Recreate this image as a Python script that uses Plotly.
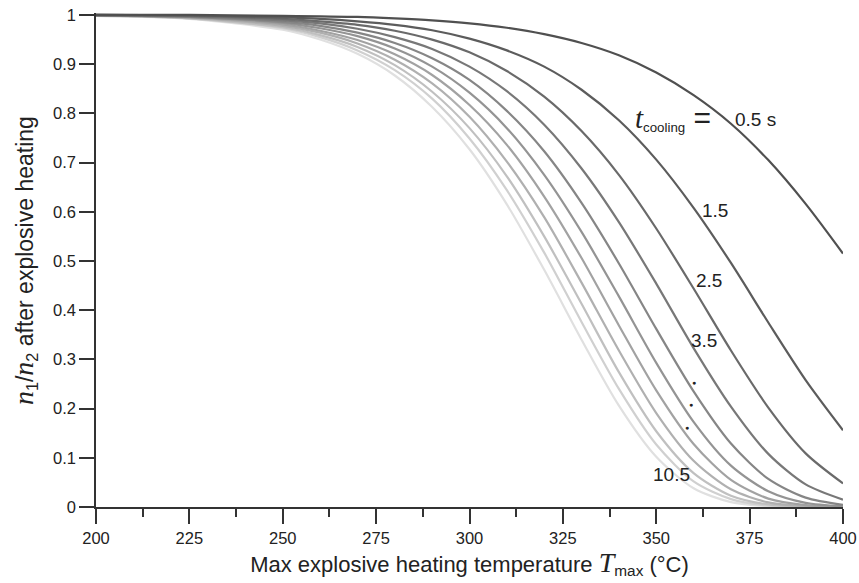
import plotly.graph_objects as go

# Max explosive heating temperature (deg C)
T_max = [200, 225, 250, 260, 270, 280, 290, 300, 310, 320, 330, 340, 350, 360, 370, 380, 390, 400]

# cooling times (s)
t_cooling = ["0.5", "1.5", "2.5", "3.5", "4.5", "5.5", "6.5", "7.5", "8.5", "9.5", "10.5"]

# n1/n2 after explosive heating, one list per cooling time
r_0_5 = [1.000, 1.000, 0.998, 0.997, 0.996, 0.993, 0.989, 0.983, 0.974, 0.961, 0.943, 0.918, 0.883, 0.837, 0.779, 0.705, 0.616, 0.515]
r_1_5 = [1.000, 0.999, 0.995, 0.992, 0.987, 0.980, 0.969, 0.952, 0.928, 0.895, 0.848, 0.786, 0.706, 0.608, 0.496, 0.375, 0.258, 0.156]
r_2_5 = [1.000, 0.998, 0.992, 0.987, 0.980, 0.968, 0.950, 0.924, 0.886, 0.834, 0.764, 0.675, 0.566, 0.444, 0.318, 0.202, 0.109, 0.048]
r_3_5 = [0.999, 0.997, 0.989, 0.983, 0.972, 0.955, 0.931, 0.895, 0.845, 0.777, 0.688, 0.579, 0.454, 0.323, 0.204, 0.108, 0.046, 0.015]
r_4_5 = [0.999, 0.996, 0.986, 0.978, 0.964, 0.943, 0.912, 0.868, 0.805, 0.723, 0.618, 0.495, 0.362, 0.235, 0.129, 0.057, 0.019, 0.0045]
r_5_5 = [0.999, 0.996, 0.984, 0.973, 0.957, 0.932, 0.895, 0.842, 0.770, 0.675, 0.559, 0.428, 0.293, 0.173, 0.084, 0.032, 0.0084, 0.0014]
r_6_5 = [0.999, 0.995, 0.981, 0.968, 0.949, 0.920, 0.878, 0.817, 0.736, 0.631, 0.506, 0.369, 0.237, 0.128, 0.055, 0.017, 0.0037, 0.0005]
r_7_5 = [0.999, 0.994, 0.978, 0.964, 0.942, 0.909, 0.861, 0.793, 0.702, 0.589, 0.456, 0.318, 0.191, 0.094, 0.036, 0.0094, 0.0016, 0.0001]
r_8_5 = [0.999, 0.993, 0.975, 0.959, 0.935, 0.898, 0.844, 0.770, 0.672, 0.550, 0.413, 0.274, 0.154, 0.069, 0.023, 0.0052, 0.0007, 0.0000]
r_9_5 = [0.998, 0.993, 0.973, 0.955, 0.928, 0.888, 0.830, 0.749, 0.644, 0.517, 0.376, 0.240, 0.127, 0.052, 0.016, 0.0030, 0.0003, 0.0000]
r_10_5 = [0.998, 0.992, 0.970, 0.950, 0.921, 0.877, 0.813, 0.727, 0.615, 0.482, 0.340, 0.206, 0.102, 0.038, 0.010, 0.0016, 0.0001, 0.0000]

series = [r_0_5, r_1_5, r_2_5, r_3_5, r_4_5, r_5_5, r_6_5, r_7_5, r_8_5, r_9_5, r_10_5]

x_ticks = [200, 225, 250, 275, 300, 325, 350, 375, 400]
y_ticks = [0, 0.1, 0.2, 0.3, 0.4, 0.5, 0.6, 0.7, 0.8, 0.9, 1]
y_ticktext = ["0", "0.1", "0.2", "0.3", "0.4", "0.5", "0.6", "0.7", "0.8", "0.9", "1"]

greys = [80, 92, 106, 120, 134, 148, 162, 176, 192, 208, 224]

fig = go.Figure()
for i in reversed(range(len(series))):
    g = greys[i]
    fig.add_trace(go.Scatter(
        x=T_max, y=series[i], mode="lines",
        line=dict(color=f"rgb({g},{g},{g})", width=2.2, shape="spline", smoothing=0.8),
        name=t_cooling[i], showlegend=False, hoverinfo="skip"))

FONT = "Liberation Sans, Arial, Helvetica, sans-serif"
SERIF = "Liberation Serif, Times New Roman, serif"
INK = "#222222"
AX = "#333333"

fig.update_layout(
    width=859, height=583,
    margin=dict(l=96, r=16, t=13, b=76),
    paper_bgcolor="white", plot_bgcolor="white",
    font=dict(family=FONT, size=16, color=INK),
    xaxis=dict(
        range=[200, 400], showgrid=False, zeroline=False, automargin=False,
        showline=True, linecolor=AX, linewidth=1.5,
        tickmode="array", tickvals=x_ticks,
        ticks="outside", ticklen=15, tickwidth=1.5, tickcolor=AX,
        tickfont=dict(family=FONT, size=16.5, color=INK),
        minor=dict(dtick=12.5, tick0=200, ticks="outside", ticklen=8, tickwidth=1.5, tickcolor=AX, showgrid=False),
        title=dict(
            text=("Max explosive heating temperature "
                  f"<span style='font-family:{SERIF};font-size:28px'><i>T</i></span>"
                  "<sub>max</sub> (°C)"),
            font=dict(family=FONT, size=22, color=INK), standoff=6),
    ),
    yaxis=dict(
        range=[0, 1.004], showgrid=False, zeroline=False, automargin=False,
        showline=True, linecolor=AX, linewidth=1.5,
        tickmode="array", tickvals=y_ticks, ticktext=y_ticktext,
        ticks="outside", ticklen=15, tickwidth=1.5, tickcolor=AX,
        tickfont=dict(family=FONT, size=16.5, color=INK),
    ),
)

# y-axis title placed as a rotated annotation
fig.add_annotation(
    x=-0.0964, y=0.5, xref="paper", yref="paper", xanchor="center", yanchor="middle",
    textangle=-90, showarrow=False, font=dict(family=FONT, size=23, color=INK),
    text=(f"<span style='font-family:{SERIF};font-size:28px'><i>n</i></span><sub>1</sub>"
          f"/<span style='font-family:{SERIF};font-size:28px'><i>n</i></span><sub>2</sub>"
          " after explosive heating"))

ann_font = dict(family=FONT, size=19, color=INK)
fig.add_annotation(x=365.2, y=0.79, xref="x", yref="y", xanchor="right", yanchor="middle",
                   showarrow=False, font=ann_font,
                   text=(f"<span style='font-family:{SERIF};font-size:29px'><i>t</i></span>"
                         "<sub>cooling</sub><span style='font-size:30px'> =</span>"))
labels = [("0.5 s", 370.5, 0.787, "left"), ("1.5", 365.7, 0.602, "center"),
          ("2.5", 364.1, 0.460, "center"), ("3.5", 362.8, 0.338, "center"),
          ("10.5", 354.2, 0.066, "center")]
for txt, xx, yy, anc in labels:
    fig.add_annotation(x=xx, y=yy, xref="x", yref="y", xanchor=anc, yanchor="middle",
                       showarrow=False, font=ann_font, text=txt)
for xx, yy in [(360.1, 0.253), (359.3, 0.208), (358.2, 0.161)]:
    fig.add_annotation(x=xx, y=yy, xref="x", yref="y", showarrow=False,
                       font=dict(family=FONT, size=7, color=INK), text="●")

fig.write_html("out.html")
